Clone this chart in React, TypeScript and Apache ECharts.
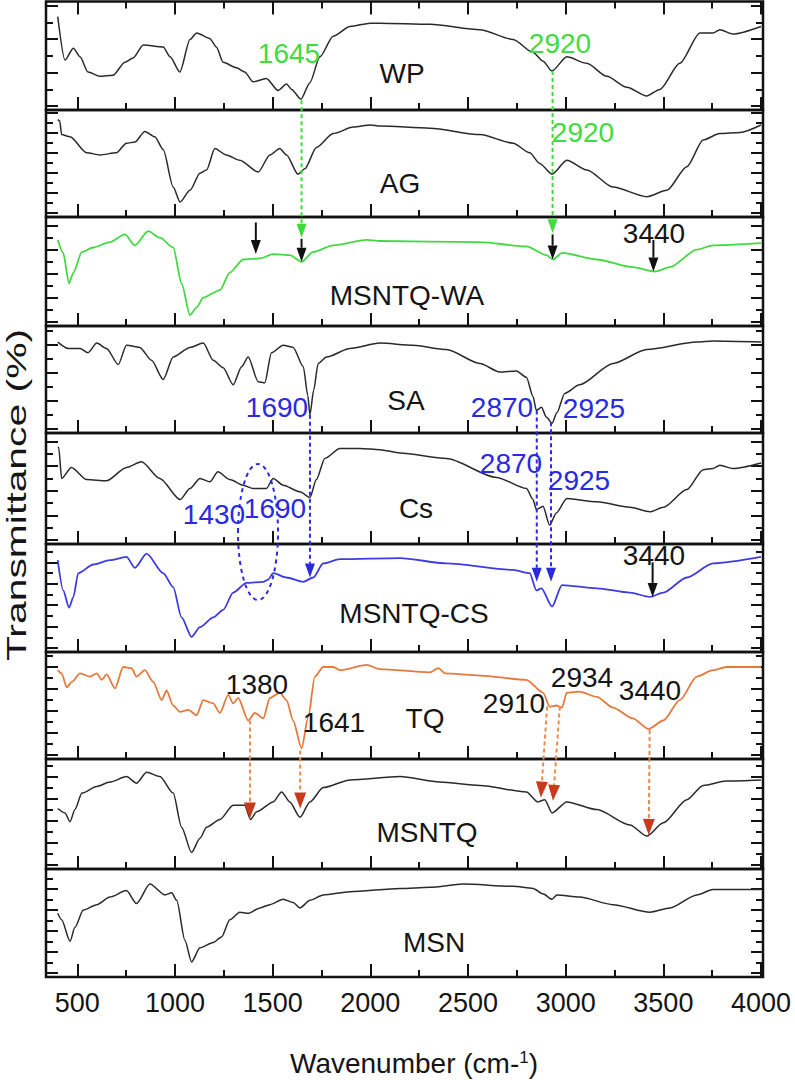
import React, { useEffect, useRef } from 'react';
import * as echarts from 'echarts';

// ---------- data ----------
const panelNames = ['WP', 'AG', 'MSNTQ-WA', 'SA', 'Cs', 'MSNTQ-CS', 'TQ', 'MSNTQ', 'MSN'];
const xTickValues = [500, 1000, 1500, 2000, 2500, 3000, 3500, 4000];
const xMinorTickValues = [750, 1250, 1750, 2250, 2750, 3250, 3750];

const wpData = [[400,86],[437,46],[480,57],[514,49],[555,35],[616,31],[683,32],[744,44],[786,48],[838,60],[940,58],[975,49],[1025,35],[1077,65],[1111,71],[1178,66],[1212,58],[1247,44],[1315,39],[1357,35],[1400,26],[1468,29],[1528,18],[1571,24],[1597,19],[1645,10],[1690,25],[1742,49],[1810,68],[1896,77],[2000,80],[2049,80],[2305,79],[2561,74],[2731,65],[2833,53],[2884,45],[2930,36],[3006,49],[3108,43],[3211,31],[3313,21],[3415,13],[3482,19],[3584,43],[3687,71],[3754,71],[3789,74],[3856,70],[4000,77]];
const agData = [[400,91],[410,90],[420,77],[463,75],[548,60],[616,58],[700,60],[752,69],[795,70],[846,80],[897,75],[940,63],[991,28],[1026,14],[1077,25],[1128,41],[1162,44],[1204,64],[1263,58],[1332,53],[1426,42],[1486,58],[1537,64],[1571,58],[1630,40],[1665,45],[1724,65],[1810,78],[1913,84],[2000,86],[2049,85],[2305,83],[2561,77],[2731,69],[2816,60],[2867,50],[2930,40],[3006,53],[3108,44],[3242,28],[3415,19],[3518,25],[3620,47],[3704,72],[3789,78],[3892,79],[4000,86]];
const waData = [[400,79],[428,67],[458,39],[480,49],[524,68],[582,72],[667,77],[744,84],[795,74],[863,87],[923,81],[991,72],[1034,39],[1077,10],[1111,17],[1145,26],[1230,33],[1281,49],[1349,61],[1435,62],[1503,66],[1588,65],[1648,59],[1708,68],[1810,74],[1981,79],[2049,78],[2561,77],[2799,73],[2901,65],[2935,61],[2981,67],[3160,61],[3344,54],[3457,50],[3534,54],[3671,70],[3754,74],[4000,76]];
const saData = [[400,85],[455,79],[514,79],[555,75],[600,84],[650,79],[710,64],[752,82],[820,80],[880,68],[940,50],[991,71],[1077,80],[1145,84],[1196,68],[1247,61],[1298,45],[1341,62],[1375,71],[1426,48],[1460,47],[1494,75],[1554,82],[1605,80],[1657,62],[1680,35],[1691,17],[1710,40],[1733,65],[1776,71],[1896,79],[2049,84],[2219,82],[2390,78],[2561,65],[2663,57],[2748,58],[2799,52],[2833,34],[2850,21],[2876,24],[2901,15],[2930,9],[2955,19],[2995,37],[3071,45],[3242,65],[3415,78],[3671,85],[3754,86],[4000,85]];
const csData = [[400,87],[405,87],[420,59],[470,69],[548,58],[650,57],[752,69],[829,74],[923,59],[1026,40],[1077,50],[1128,59],[1179,56],[1220,65],[1281,58],[1349,53],[1400,50],[1468,50],[1503,59],[1554,53],[1640,47],[1691,42],[1724,58],[1767,77],[1844,86],[1947,86],[2049,85],[2152,82],[2390,77],[2646,60],[2799,50],[2833,40],[2850,31],[2884,34],[2918,17],[2952,28],[3006,41],[3160,38],[3329,33],[3431,29],[3500,33],[3620,49],[3704,67],[3754,68],[3789,71],[3856,68],[4000,73]];
const msntqCsData = [[400,85],[428,57],[458,41],[480,51],[505,73],[582,81],[667,85],[752,88],[795,78],[855,91],[940,73],[991,60],[1034,32],[1085,14],[1128,23],[1196,32],[1247,39],[1298,55],[1366,64],[1452,65],[1477,67],[1503,73],[1571,69],[1657,65],[1708,69],[1759,82],[1844,86],[2152,87],[2390,82],[2731,76],[2816,73],[2850,57],[2876,59],[2930,42],[2981,62],[3160,59],[3329,55],[3431,51],[3500,55],[3620,69],[3754,82],[4000,88]];
const tqData = [[400,83],[420,80],[446,67],[472,72],[514,80],[565,77],[600,80],[625,74],[650,79],[693,66],[735,86],[778,85],[803,77],[846,83],[889,72],[932,55],[957,64],[991,50],[1026,44],[1068,46],[1111,41],[1145,55],[1196,52],[1230,43],[1273,60],[1298,52],[1324,57],[1375,36],[1409,43],[1452,38],[1486,57],[1537,62],[1571,55],[1605,36],[1648,10],[1682,39],[1716,77],[1759,86],[1810,86],[1844,83],[1981,88],[2049,84],[2305,81],[2348,85],[2382,80],[2561,78],[2799,74],[2884,62],[2918,49],[2952,50],[2981,48],[3006,62],[3071,63],[3160,58],[3242,48],[3344,38],[3424,28],[3500,36],[3584,55],[3671,77],[3754,83],[3822,86],[4000,86]];
const msntqData = [[400,55],[437,51],[463,43],[488,54],[524,69],[600,75],[667,79],[752,84],[803,78],[855,88],[923,84],[991,69],[1034,38],[1085,15],[1128,28],[1162,38],[1230,45],[1298,58],[1357,58],[1387,45],[1418,52],[1503,61],[1546,70],[1588,61],[1640,47],[1691,61],[1759,74],[1896,81],[2152,84],[2356,79],[2561,76],[2799,70],[2858,61],[2893,63],[2930,51],[3006,61],[3160,54],[3329,40],[3415,30],[3500,42],[3620,63],[3704,76],[3822,80],[4000,81]];
const msnData = [[400,59],[420,53],[463,33],[488,46],[531,62],[600,67],[667,74],[752,80],[803,68],[872,86],[949,76],[983,78],[1009,71],[1051,34],[1085,14],[1128,27],[1196,32],[1238,37],[1281,53],[1332,60],[1375,59],[1435,64],[1486,67],[1554,72],[1605,69],[1640,64],[1691,71],[1759,76],[1896,79],[2152,82],[2305,83],[2475,86],[2731,84],[2833,82],[2884,77],[2930,72],[2955,76],[3071,74],[3242,67],[3431,60],[3534,64],[3671,76],[3754,81],[4000,81]];

const seriesData = [wpData, agData, waData, saData, csData, msntqCsData, tqData, msntqData, msnData];

// arrows: [fromPanel, fromWn, fromVal, toPanel, toWn, toVal, kind]
const arrows: [number, number, number, number, number, number, string][] = [
  [0, 1648, 9, 2, 1648, 81, 'green'],
  [2, 1648, 80, 2, 1648, 59, 'black'],
  [0, 2933, 36, 2, 2933, 85, 'green'],
  [2, 2933, 84, 2, 2933, 61, 'black'],
  [2, 1414, 95, 2, 1414, 66, 'black'],
  [2, 3449, 79, 2, 3449, 50, 'black'],
  [3, 1691, 17, 5, 1691, 69, 'blue'],
  [3, 2852, 21, 5, 2852, 65, 'blue'],
  [3, 2925, 10, 5, 2925, 65, 'blue'],
  [5, 3445, 83, 5, 3445, 51, 'black'],
  [6, 1384, 36, 7, 1384, 46, 'orange'],
  [6, 1641, 8, 7, 1641, 55, 'orange'],
  [6, 2905, 49, 7, 2873, 65, 'orange'],
  [6, 2970, 49, 7, 2935, 62, 'orange'],
  [6, 3430, 27, 7, 3425, 31, 'orange'],
];

// annotation texts: [text, colorKind, x, y]
const annotations: [string, string, number, number][] = [
  ['1645', 'green', 289, 53],
  ['2920', 'green', 560, 43],
  ['2920', 'green', 583, 132],
  ['3440', 'black', 654, 233],
  ['1690', 'blue', 277, 407],
  ['2870', 'blue', 502, 407],
  ['2925', 'blue', 594, 408],
  ['1430', 'blue', 214, 514],
  ['1690', 'blue', 275, 508],
  ['2870', 'blue', 511, 463],
  ['2925', 'blue', 579, 480],
  ['3440', 'black', 654, 555],
  ['1380', 'black', 257, 684],
  ['1641', 'black', 334, 722],
  ['2910', 'black', 514, 703],
  ['2934', 'black', 582, 677],
  ['3440', 'black', 650, 690],
];
const panelLabelPos: [number, number][] = [[402, 73], [400, 183], [407, 295], [406, 400], [416, 508], [414, 613], [425, 718], [427, 832], [434, 942]];

// ---------- styles / layout ----------
const FONT = "'Liberation Sans', Arial, Helvetica, sans-serif";
const TXT = '#151515';
const X_TICK_COLOR = '#111';
const lineColors = ['#2a2a2a', '#2a2a2a', '#45d845', '#2a2a2a', '#2a2a2a', '#3c3ce0', '#e57a3c', '#2a2a2a', '#2a2a2a'];
const kindColors: Record<string, string> = { green: '#3fdb3f', black: '#111111', blue: '#2a2ae0', orange: '#ec8a4a' };
const headColors: Record<string, string> = { green: '#3fdb3f', black: '#111111', blue: '#2a2ae0', orange: '#c83a1c' };
const bounds = [1.5, 110, 217, 326, 433, 544, 652, 759, 869, 977];
const yTickSpacing = [16.7, 10, 12, 14, 12.3, 10.7, 11, 11, 10.5];
const GRID_LEFT = 46;
const GRID_RIGHT_X = 763;
const X_MIN = 340;
const X_MAX = 4010;

function buildOption() {
  const grid: any[] = [];
  const xAxis: any[] = [];
  const yAxis: any[] = [];
  const series: any[] = [];
  const mainX: number[] = [];
  const mainY: number[] = [];
  const tickStyle = { color: '#111', width: 2 };
  const xTickStyle = { color: X_TICK_COLOR, width: 2 };

  const mkX = (gi: number, pos: string, len: number, vals: number[], labels: boolean) => ({
    type: 'value', gridIndex: gi, min: X_MIN, max: X_MAX, position: pos,
    axisLine: { show: false, onZero: false },
    splitLine: { show: false },
    axisTick: { show: true, inside: true, length: len, customValues: vals, lineStyle: xTickStyle },
    axisLabel: labels
      ? { show: true, customValues: xTickValues, fontSize: 27, color: TXT, fontFamily: FONT, margin: 12, formatter: (v: number) => String(v) }
      : { show: false },
  });
  const mkY = (gi: number, pos: string, len: number, vals: number[]) => ({
    type: 'value', gridIndex: gi, min: 0, max: 100, position: pos,
    axisLine: { show: false, onZero: false },
    splitLine: { show: false },
    axisLabel: { show: false },
    axisTick: { show: true, inside: true, length: len, customValues: vals, lineStyle: tickStyle },
  });

  for (let i = 0; i < 9; i++) {
    const top = bounds[i];
    const h = bounds[i + 1] - bounds[i];
    grid.push({
      left: GRID_LEFT, width: GRID_RIGHT_X - GRID_LEFT, top, height: h,
      show: true, borderColor: '#111', borderWidth: 2.5,
    });
    mainX.push(xAxis.length);
    xAxis.push(mkX(i, 'bottom', 13, xTickValues, i === 8));
    xAxis.push(mkX(i, 'bottom', 7, xMinorTickValues, false));
    if (i === 0) {
      xAxis.push(mkX(i, 'top', 13, xTickValues, false));
      xAxis.push(mkX(i, 'top', 7, xMinorTickValues, false));
    }
    const major: number[] = [];
    const minor: number[] = [];
    let k = 0;
    for (let p = 4; p < h - 2; p += yTickSpacing[i]) {
      (k % 2 === 0 ? major : minor).push((p / h) * 100);
      k++;
    }
    mainY.push(yAxis.length);
    yAxis.push(mkY(i, 'left', 12, major));
    yAxis.push(mkY(i, 'left', 7, minor));
    yAxis.push(mkY(i, 'right', 12, major));
    yAxis.push(mkY(i, 'right', 7, minor));

    series.push({
      type: 'line', name: panelNames[i], xAxisIndex: mainX[i], yAxisIndex: mainY[i],
      data: seriesData[i], showSymbol: false, smooth: 0.25, smoothMonotone: 'x', silent: true,
      lineStyle: { color: lineColors[i], width: i === 2 || i === 5 || i === 6 ? 1.8 : 1.5 },
    });
  }
  return {
    option: { animation: false, grid, xAxis, yAxis, series },
    mainX, mainY,
  };
}

function textEl(text: string, x: number, y: number, color: string, size = 28): any {
  return {
    type: 'text', x, y, z: 10,
    style: {
      text, fill: color, fontSize: size, fontFamily: FONT,
      align: 'center', verticalAlign: 'middle', textAlign: 'center', textVerticalAlign: 'middle',
    },
  };
}

function buildGraphics(chart: any, mainX: number[], mainY: number[]) {
  const els: any[] = [];
  const toPx = (p: number, wn: number, v: number) =>
    chart.convertToPixel({ xAxisIndex: mainX[p], yAxisIndex: mainY[p] }, [wn, v]) as number[];

  arrows.forEach(([fp, fw, fv, tp, tw, tv, kind]) => {
    const a = toPx(fp, fw, fv);
    const b = toPx(tp, tw, tv);
    const dx = b[0] - a[0];
    const dy = b[1] - a[1];
    const len = Math.sqrt(dx * dx + dy * dy) || 1;
    const ux = dx / len, uy = dy / len;
    const L = kind === 'orange' ? 16 : 14;
    const w = kind === 'orange' ? 6 : 5;
    const bx = b[0] - ux * L, by = b[1] - uy * L;
    const dashed = kind !== 'black';
    els.push({
      type: 'line', z: 8,
      shape: { x1: a[0], y1: a[1], x2: bx, y2: by },
      style: { stroke: kindColors[kind], lineWidth: 2, lineDash: dashed ? [4, 3] : null },
    });
    els.push({
      type: 'polygon', z: 9,
      shape: { points: [[b[0], b[1]], [bx - uy * w, by + ux * w], [bx + uy * w, by - ux * w]] },
      style: { fill: headColors[kind], stroke: 'none' },
    });
  });

  els.push({
    type: 'ellipse', z: 8,
    shape: { cx: 258, cy: 532, rx: 20, ry: 68 },
    style: { fill: 'none', stroke: kindColors.blue, lineWidth: 2, lineDash: [4, 4] },
  });

  annotations.forEach(([t, kind, x, y]) => els.push(textEl(t, x, y, kind === 'black' ? TXT : kindColors[kind])));
  panelNames.forEach((n, i) => els.push(textEl(n, panelLabelPos[i][0], panelLabelPos[i][1], TXT)));

  els.push({
    type: 'text', x: 414, y: 1063, z: 10,
    style: {
      text: 'Wavenumber (cm-{s|1})', fill: TXT, fontSize: 28, fontFamily: FONT,
      align: 'center', verticalAlign: 'middle', textAlign: 'center', textVerticalAlign: 'middle',
      rich: { s: { fontSize: 17, fontFamily: FONT, fill: TXT, verticalAlign: 'top' } },
    },
  });
  els.push({
    type: 'text', x: 16, y: 495, z: 10, rotation: Math.PI / 2, scaleX: 1.46,
    style: {
      text: 'Transmittance (%)', fill: TXT, fontSize: 28, fontFamily: FONT,
      align: 'center', verticalAlign: 'middle', textAlign: 'center', textVerticalAlign: 'middle',
    },
  });
  return els;
}

export default function App() {
  const ref = useRef<HTMLDivElement>(null);
  useEffect(() => {
    if (!ref.current) return;
    const chart = echarts.init(ref.current, null, { renderer: 'svg', width: 795, height: 1080 });
    const { option, mainX, mainY } = buildOption();
    chart.setOption(option as any);
    chart.setOption({ graphic: buildGraphics(chart, mainX, mainY) } as any);
    return () => chart.dispose();
  }, []);
  return (
    <div
      ref={ref}
      style={{ position: 'absolute', left: 0, top: 0, width: 795, height: 1080, background: '#fff' }}
    />
  );
}
